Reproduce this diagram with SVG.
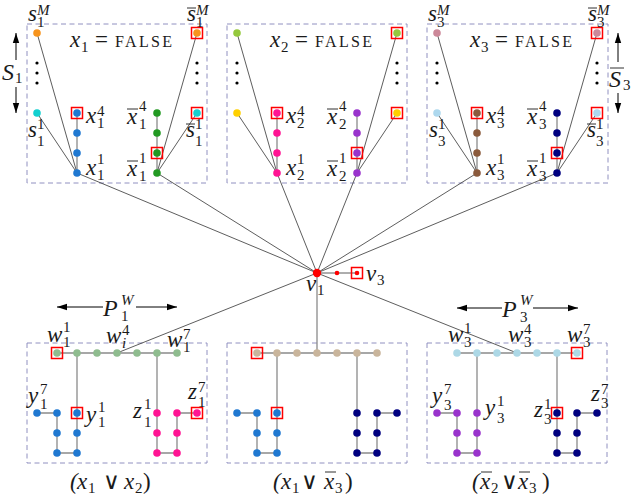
<svg xmlns="http://www.w3.org/2000/svg" width="635" height="496" viewBox="0 0 635 496">
<style>
.box{fill:none;stroke:#9090c0;stroke-width:1;stroke-dasharray:5 3.5}
.e{stroke:#8a8a8a;stroke-width:1.3;fill:none}
.c{stroke:#333;stroke-width:0.8;fill:none}
.rs{fill:none;stroke:#ff0000;stroke-width:1.5}
.ol{stroke:#1a1a1a;stroke-width:0.9}
.m{font-family:'Liberation Serif','DejaVu Serif','Times New Roman',serif;font-style:italic;font-size:23px;fill:#1a1a1a}
.d{font-style:normal;font-size:15px}
.i{font-style:italic;font-size:15px}
.n{font-style:normal}
.big{font-size:24px}
.fs{font-family:'Liberation Serif','DejaVu Serif','Times New Roman',serif;font-size:16px;fill:#1a1a1a}
.dot{fill:#000}
.ar{stroke:#000;stroke-width:1}
</style>
<defs>
<marker id="ah" markerWidth="12" markerHeight="8" refX="10" refY="4" orient="auto" markerUnits="userSpaceOnUse"><path d="M0,0.8 L10,4 L0,7.2 z" fill="#000"/></marker>
</defs>

<g id="boxes">
<rect class="box" x="27" y="24" width="180" height="159"/>
<rect class="box" x="227" y="24" width="180" height="159"/>
<rect class="box" x="427" y="24" width="181" height="159"/>
<rect class="box" x="27" y="343" width="180" height="120"/>
<rect class="box" x="227" y="343" width="180" height="120"/>
<rect class="box" x="427" y="343" width="180" height="120"/>
</g>

<g id="connectors">
<line class="e" x1="77" y1="113" x2="77" y2="173"/>
<line class="e" x1="157" y1="113" x2="157" y2="173"/>
<line class="c" x1="37" y1="33" x2="77" y2="173"/>
<line class="c" x1="37" y1="113" x2="77" y2="173"/>
<line class="c" x1="197" y1="33" x2="157" y2="173"/>
<line class="c" x1="197" y1="113" x2="157" y2="173"/>
<line class="e" x1="277" y1="113" x2="277" y2="173"/>
<line class="e" x1="357" y1="113" x2="357" y2="173"/>
<line class="c" x1="237" y1="33" x2="277" y2="173"/>
<line class="c" x1="237" y1="113" x2="277" y2="173"/>
<line class="c" x1="397" y1="33" x2="357" y2="173"/>
<line class="c" x1="397" y1="113" x2="357" y2="173"/>
<line class="e" x1="477" y1="113" x2="477" y2="173"/>
<line class="e" x1="557" y1="113" x2="557" y2="173"/>
<line class="c" x1="437" y1="33" x2="477" y2="173"/>
<line class="c" x1="437" y1="113" x2="477" y2="173"/>
<line class="c" x1="597" y1="33" x2="557" y2="173"/>
<line class="c" x1="597" y1="113" x2="557" y2="173"/>
<line class="c" x1="77" y1="173" x2="317" y2="273"/>
<line class="c" x1="157" y1="173" x2="317" y2="273"/>
<line class="c" x1="277" y1="173" x2="317" y2="273"/>
<line class="c" x1="357" y1="173" x2="317" y2="273"/>
<line class="c" x1="477" y1="173" x2="317" y2="273"/>
<line class="c" x1="557" y1="173" x2="317" y2="273"/>
<line class="c" x1="317" y1="273" x2="117" y2="353"/>
<line class="c" x1="317" y1="273" x2="517" y2="353"/>
<line class="e" x1="317" y1="273" x2="317" y2="353"/>
<line class="c" x1="317" y1="273" x2="357" y2="273"/>
<line class="e" x1="57" y1="353" x2="177" y2="353"/>
<line class="e" x1="77" y1="353" x2="77" y2="413"/>
<line class="e" x1="157" y1="353" x2="157" y2="413"/>
<polyline class="e" points="37,413 57,413 57,453 77,453 77,413"/>
<polyline class="e" points="157,413 157,453 177,453 177,413 197,413"/>
<line class="e" x1="257" y1="353" x2="377" y2="353"/>
<line class="e" x1="277" y1="353" x2="277" y2="413"/>
<line class="e" x1="357" y1="353" x2="357" y2="413"/>
<polyline class="e" points="237,413 257,413 257,453 277,453 277,413"/>
<polyline class="e" points="357,413 357,453 377,453 377,413 397,413"/>
<line class="e" x1="457" y1="353" x2="577" y2="353"/>
<line class="e" x1="477" y1="353" x2="477" y2="413"/>
<line class="e" x1="557" y1="353" x2="557" y2="413"/>
<polyline class="e" points="437,413 457,413 457,453 477,453 477,413"/>
<polyline class="e" points="557,413 557,453 577,453 577,413 597,413"/>
</g>

<g id="s1M"><circle cx="37" cy="33" r="3.8" fill="#f7941d"/></g>
<g id="s1_1"><circle cx="37" cy="113" r="3.8" fill="#12d0d0"/></g>
<g id="x1_4"><circle cx="77" cy="113" r="3.8" fill="#1f78d1"/><rect class="rs" x="71.5" y="107.5" width="11" height="11"/></g>
<g id="x1_3"><circle cx="77" cy="133" r="3.8" fill="#1f78d1"/></g>
<g id="x1_2"><circle cx="77" cy="153" r="3.8" fill="#1f78d1"/></g>
<g id="x1_1"><circle cx="77" cy="173" r="3.8" fill="#1f78d1"/></g>
<g id="xb1_4"><circle cx="157" cy="113" r="3.8" fill="#229922"/></g>
<g id="xb1_3"><circle cx="157" cy="133" r="3.8" fill="#229922"/></g>
<g id="xb1_2"><circle cx="157" cy="153" r="3.8" fill="#229922"/><rect class="rs" x="151.5" y="147.5" width="11" height="11"/></g>
<g id="xb1_1"><circle cx="157" cy="173" r="3.8" fill="#229922"/></g>
<g id="sb1M"><circle cx="197" cy="33" r="3.8" fill="#f7941d"/><rect class="rs" x="191.5" y="27.5" width="11" height="11"/></g>
<g id="sb1_1"><circle cx="197" cy="113" r="3.8" fill="#12d0d0"/><rect class="rs" x="191.5" y="107.5" width="11" height="11"/></g>
<g id="s2M"><circle cx="237" cy="33" r="3.8" fill="#95c93d"/></g>
<g id="s2_1"><circle cx="237" cy="113" r="3.8" fill="#ffd000"/></g>
<g id="x2_4"><circle cx="277" cy="113" r="3.8" fill="#ff1493"/><rect class="rs" x="271.5" y="107.5" width="11" height="11"/></g>
<g id="x2_3"><circle cx="277" cy="133" r="3.8" fill="#ff1493"/></g>
<g id="x2_2"><circle cx="277" cy="153" r="3.8" fill="#ff1493"/></g>
<g id="x2_1"><circle cx="277" cy="173" r="3.8" fill="#ff1493"/></g>
<g id="xb2_4"><circle cx="357" cy="113" r="3.8" fill="#9933cc"/></g>
<g id="xb2_3"><circle cx="357" cy="133" r="3.8" fill="#9933cc"/></g>
<g id="xb2_2"><circle cx="357" cy="153" r="3.8" fill="#9933cc"/><rect class="rs" x="351.5" y="147.5" width="11" height="11"/></g>
<g id="xb2_1"><circle cx="357" cy="173" r="3.8" fill="#9933cc"/></g>
<g id="sb2M"><circle cx="397" cy="33" r="3.8" fill="#95c93d"/><rect class="rs" x="391.5" y="27.5" width="11" height="11"/></g>
<g id="sb2_1"><circle cx="397" cy="113" r="3.8" fill="#ffd000"/><rect class="rs" x="391.5" y="107.5" width="11" height="11"/></g>
<g id="s3M"><circle cx="437" cy="33" r="3.8" fill="#cc8899"/></g>
<g id="s3_1"><circle cx="437" cy="113" r="3.8" fill="#add8ee"/></g>
<g id="x3_4"><circle cx="477" cy="113" r="3.8" fill="#8b5a3c"/><rect class="rs" x="471.5" y="107.5" width="11" height="11"/></g>
<g id="x3_3"><circle cx="477" cy="133" r="3.8" fill="#8b5a3c"/></g>
<g id="x3_2"><circle cx="477" cy="153" r="3.8" fill="#8b5a3c"/></g>
<g id="x3_1"><circle cx="477" cy="173" r="3.8" fill="#8b5a3c"/></g>
<g id="xb3_4"><circle cx="557" cy="113" r="3.8" fill="#000080"/></g>
<g id="xb3_3"><circle cx="557" cy="133" r="3.8" fill="#000080"/></g>
<g id="xb3_2"><circle cx="557" cy="153" r="3.8" fill="#000080"/><rect class="rs" x="551.5" y="147.5" width="11" height="11"/></g>
<g id="xb3_1"><circle cx="557" cy="173" r="3.8" fill="#000080"/></g>
<g id="sb3M"><circle cx="597" cy="33" r="3.8" fill="#cc8899"/><rect class="rs" x="591.5" y="27.5" width="11" height="11"/></g>
<g id="sb3_1"><circle cx="597" cy="113" r="3.8" fill="#add8ee"/><rect class="rs" x="591.5" y="107.5" width="11" height="11"/></g>

<g id="vdots">
<circle class="dot" cx="37" cy="63" r="1.6"/><circle class="dot" cx="37" cy="73" r="1.6"/><circle class="dot" cx="37" cy="83" r="1.6"/>
<circle class="dot" cx="197" cy="63" r="1.6"/><circle class="dot" cx="197" cy="73" r="1.6"/><circle class="dot" cx="197" cy="83" r="1.6"/>
<circle class="dot" cx="237" cy="63" r="1.6"/><circle class="dot" cx="237" cy="73" r="1.6"/><circle class="dot" cx="237" cy="83" r="1.6"/>
<circle class="dot" cx="397" cy="63" r="1.6"/><circle class="dot" cx="397" cy="73" r="1.6"/><circle class="dot" cx="397" cy="83" r="1.6"/>
<circle class="dot" cx="437" cy="63" r="1.6"/><circle class="dot" cx="437" cy="73" r="1.6"/><circle class="dot" cx="437" cy="83" r="1.6"/>
<circle class="dot" cx="597" cy="63" r="1.6"/><circle class="dot" cx="597" cy="73" r="1.6"/><circle class="dot" cx="597" cy="83" r="1.6"/>
</g>

<g id="v1"><circle cx="317" cy="273" r="4.2" fill="#ff0000"/></g>
<g id="v2"><circle cx="337" cy="273" r="2.3" fill="#ff0000"/></g>
<g id="v3"><circle cx="357" cy="273" r="2.3" fill="#ff0000"/><rect class="rs" x="351.5" y="267.5" width="11" height="11"/></g>

<g id="w1_1"><circle cx="57" cy="353" r="3.8" fill="#8fbc8f"/><rect class="rs" x="51.5" y="347.5" width="11" height="11"/></g>
<g id="w1_2"><circle cx="77" cy="353" r="3.8" fill="#8fbc8f"/></g>
<g id="w1_3"><circle cx="97" cy="353" r="3.8" fill="#8fbc8f"/></g>
<g id="w1_4"><circle cx="117" cy="353" r="3.8" fill="#8fbc8f"/></g>
<g id="w1_5"><circle cx="137" cy="353" r="3.8" fill="#8fbc8f"/></g>
<g id="w1_6"><circle cx="157" cy="353" r="3.8" fill="#8fbc8f"/></g>
<g id="w1_7"><circle cx="177" cy="353" r="3.8" fill="#8fbc8f"/></g>
<g id="y1_1"><circle cx="77" cy="413" r="3.8" fill="#1f78d1"/><rect class="rs" x="71.5" y="407.5" width="11" height="11"/></g>
<g id="y1_2"><circle cx="77" cy="433" r="3.8" fill="#1f78d1"/></g>
<g id="y1_3"><circle cx="77" cy="453" r="3.8" fill="#1f78d1"/></g>
<g id="y1_4"><circle cx="57" cy="453" r="3.8" fill="#1f78d1"/></g>
<g id="y1_5"><circle cx="57" cy="433" r="3.8" fill="#1f78d1"/></g>
<g id="y1_6"><circle cx="57" cy="413" r="3.8" fill="#1f78d1"/></g>
<g id="y1_7"><circle cx="37" cy="413" r="3.8" fill="#1f78d1"/></g>
<g id="z1_1"><circle cx="157" cy="413" r="3.8" fill="#ff1493"/></g>
<g id="z1_2"><circle cx="157" cy="433" r="3.8" fill="#ff1493"/></g>
<g id="z1_3"><circle cx="157" cy="453" r="3.8" fill="#ff1493"/></g>
<g id="z1_4"><circle cx="177" cy="453" r="3.8" fill="#ff1493"/></g>
<g id="z1_5"><circle cx="177" cy="433" r="3.8" fill="#ff1493"/></g>
<g id="z1_6"><circle cx="177" cy="413" r="3.8" fill="#ff1493"/></g>
<g id="z1_7"><circle cx="197" cy="413" r="3.8" fill="#ff1493"/><rect class="rs" x="191.5" y="407.5" width="11" height="11"/></g>
<g id="w2_1"><circle cx="257" cy="353" r="3.8" fill="#c9b59c"/><rect class="rs" x="251.5" y="347.5" width="11" height="11"/></g>
<g id="w2_2"><circle cx="277" cy="353" r="3.8" fill="#c9b59c"/></g>
<g id="w2_3"><circle cx="297" cy="353" r="3.8" fill="#c9b59c"/></g>
<g id="w2_4"><circle cx="317" cy="353" r="3.8" fill="#c9b59c"/></g>
<g id="w2_5"><circle cx="337" cy="353" r="3.8" fill="#c9b59c"/></g>
<g id="w2_6"><circle cx="357" cy="353" r="3.8" fill="#c9b59c"/></g>
<g id="w2_7"><circle cx="377" cy="353" r="3.8" fill="#c9b59c"/></g>
<g id="y2_1"><circle cx="277" cy="413" r="3.8" fill="#1f78d1"/><rect class="rs" x="271.5" y="407.5" width="11" height="11"/></g>
<g id="y2_2"><circle cx="277" cy="433" r="3.8" fill="#1f78d1"/></g>
<g id="y2_3"><circle cx="277" cy="453" r="3.8" fill="#1f78d1"/></g>
<g id="y2_4"><circle cx="257" cy="453" r="3.8" fill="#1f78d1"/></g>
<g id="y2_5"><circle cx="257" cy="433" r="3.8" fill="#1f78d1"/></g>
<g id="y2_6"><circle cx="257" cy="413" r="3.8" fill="#1f78d1"/></g>
<g id="y2_7"><circle cx="237" cy="413" r="3.8" fill="#1f78d1"/></g>
<g id="z2_1"><circle cx="357" cy="413" r="3.8" fill="#000080"/></g>
<g id="z2_2"><circle cx="357" cy="433" r="3.8" fill="#000080"/></g>
<g id="z2_3"><circle cx="357" cy="453" r="3.8" fill="#000080"/></g>
<g id="z2_4"><circle cx="377" cy="453" r="3.8" fill="#000080"/></g>
<g id="z2_5"><circle cx="377" cy="433" r="3.8" fill="#000080"/></g>
<g id="z2_6"><circle cx="377" cy="413" r="3.8" fill="#000080"/></g>
<g id="z2_7"><circle cx="397" cy="413" r="3.8" fill="#000080"/></g>
<g id="w3_1"><circle cx="457" cy="353" r="3.8" fill="#add8e6"/></g>
<g id="w3_2"><circle cx="477" cy="353" r="3.8" fill="#add8e6"/></g>
<g id="w3_3"><circle cx="497" cy="353" r="3.8" fill="#add8e6"/></g>
<g id="w3_4"><circle cx="517" cy="353" r="3.8" fill="#add8e6"/></g>
<g id="w3_5"><circle cx="537" cy="353" r="3.8" fill="#add8e6"/></g>
<g id="w3_6"><circle cx="557" cy="353" r="3.8" fill="#add8e6"/></g>
<g id="w3_7"><circle cx="577" cy="353" r="3.8" fill="#add8e6"/><rect class="rs" x="571.5" y="347.5" width="11" height="11"/></g>
<g id="y3_1"><circle cx="477" cy="413" r="3.8" fill="#9933cc"/></g>
<g id="y3_2"><circle cx="477" cy="433" r="3.8" fill="#9933cc"/></g>
<g id="y3_3"><circle cx="477" cy="453" r="3.8" fill="#9933cc"/></g>
<g id="y3_4"><circle cx="457" cy="453" r="3.8" fill="#9933cc"/></g>
<g id="y3_5"><circle cx="457" cy="433" r="3.8" fill="#9933cc"/></g>
<g id="y3_6"><circle cx="457" cy="413" r="3.8" fill="#9933cc"/></g>
<g id="y3_7"><circle cx="437" cy="413" r="3.8" fill="#9933cc"/></g>
<g id="z3_1"><circle cx="557" cy="413" r="3.8" fill="#000080"/><rect class="rs" x="551.5" y="407.5" width="11" height="11"/></g>
<g id="z3_2"><circle cx="557" cy="433" r="3.8" fill="#000080"/></g>
<g id="z3_3"><circle cx="557" cy="453" r="3.8" fill="#000080"/></g>
<g id="z3_4"><circle cx="577" cy="453" r="3.8" fill="#000080"/></g>
<g id="z3_5"><circle cx="577" cy="433" r="3.8" fill="#000080"/></g>
<g id="z3_6"><circle cx="577" cy="413" r="3.8" fill="#000080"/></g>
<g id="z3_7"><circle cx="597" cy="413" r="3.8" fill="#000080"/></g>

<g id="arrows">
<line class="ar" x1="16" y1="60" x2="16" y2="33" marker-end="url(#ah)"/>
<line class="ar" x1="16" y1="87" x2="16" y2="113" marker-end="url(#ah)"/>
<line class="ar" x1="618" y1="62" x2="618" y2="33" marker-end="url(#ah)"/>
<line class="ar" x1="618" y1="93" x2="618" y2="113" marker-end="url(#ah)"/>
<line class="ar" x1="103" y1="307" x2="57" y2="307" marker-end="url(#ah)"/>
<line class="ar" x1="136" y1="307" x2="177" y2="307" marker-end="url(#ah)"/>
<line class="ar" x1="502" y1="308" x2="457" y2="308" marker-end="url(#ah)"/>
<line class="ar" x1="533" y1="308" x2="578" y2="308" marker-end="url(#ah)"/>
</g>

<g id="labels" font-family="Liberation Serif, DejaVu Serif, serif">
<text class="m" x="70" y="47">x<tspan class="d" x="81" y="52">1</tspan><tspan class="n" x="95" y="47">=</tspan></text>
<text class="fs" x="115" y="47" textLength="57" lengthAdjust="spacing">FALSE</text>
<text class="m" x="270" y="47">x<tspan class="d" x="281" y="52">2</tspan><tspan class="n" x="295" y="47">=</tspan></text>
<text class="fs" x="315" y="47" textLength="57" lengthAdjust="spacing">FALSE</text>
<text class="m" x="470" y="47">x<tspan class="d" x="481" y="52">3</tspan><tspan class="n" x="495" y="47">=</tspan></text>
<text class="fs" x="515" y="47" textLength="57" lengthAdjust="spacing">FALSE</text>

<text class="m" x="28" y="21">s<tspan class="i" x="37" y="15">M</tspan><tspan class="d" x="37" y="27">1</tspan></text>
<text class="m" x="187" y="21">s<tspan class="i" x="196" y="15">M</tspan><tspan class="d" x="196" y="27">1</tspan></text>
<line class="ol" x1="187" y1="8" x2="196" y2="8"/>
<text class="m" x="28" y="137">s<tspan class="d" x="37" y="129">1</tspan><tspan class="d" x="37" y="146">1</tspan></text>
<text class="m" x="186" y="137">s<tspan class="d" x="195" y="129">1</tspan><tspan class="d" x="195" y="146">1</tspan></text>
<line class="ol" x1="186" y1="124" x2="195" y2="124"/>
<text class="m" x="86" y="123">x<tspan class="d" x="97" y="116">4</tspan><tspan class="d" x="97" y="128">1</tspan></text>
<text class="m" x="86" y="175">x<tspan class="d" x="97" y="164">1</tspan><tspan class="d" x="97" y="180">1</tspan></text>
<text class="m" x="127" y="124">x<tspan class="d" x="139" y="111">4</tspan><tspan class="d" x="139" y="129">1</tspan></text>
<line class="ol" x1="127" y1="109" x2="138" y2="109"/>
<text class="m" x="127" y="176">x<tspan class="d" x="139" y="163">1</tspan><tspan class="d" x="139" y="181">1</tspan></text>
<line class="ol" x1="127" y1="161" x2="138" y2="161"/>
<text class="m big" x="2" y="80">S<tspan class="d" x="15" y="83">1</tspan></text>

<text class="m" x="286" y="123">x<tspan class="d" x="297" y="116">4</tspan><tspan class="d" x="297" y="128">2</tspan></text>
<text class="m" x="286" y="175">x<tspan class="d" x="297" y="164">1</tspan><tspan class="d" x="297" y="180">2</tspan></text>
<text class="m" x="327" y="124">x<tspan class="d" x="339" y="111">4</tspan><tspan class="d" x="339" y="129">2</tspan></text>
<line class="ol" x1="327" y1="109" x2="338" y2="109"/>
<text class="m" x="327" y="176">x<tspan class="d" x="339" y="163">1</tspan><tspan class="d" x="339" y="181">2</tspan></text>
<line class="ol" x1="327" y1="161" x2="338" y2="161"/>

<text class="m" x="428" y="21">s<tspan class="i" x="437" y="15">M</tspan><tspan class="d" x="437" y="27">3</tspan></text>
<text class="m" x="588" y="21">s<tspan class="i" x="597" y="15">M</tspan><tspan class="d" x="597" y="27">3</tspan></text>
<line class="ol" x1="588" y1="8" x2="597" y2="8"/>
<text class="m" x="429" y="137">s<tspan class="d" x="438" y="129">1</tspan><tspan class="d" x="438" y="146">3</tspan></text>
<text class="m" x="587" y="137">s<tspan class="d" x="596" y="129">1</tspan><tspan class="d" x="596" y="146">3</tspan></text>
<line class="ol" x1="587" y1="124" x2="596" y2="124"/>
<text class="m" x="486" y="123">x<tspan class="d" x="497" y="116">4</tspan><tspan class="d" x="497" y="128">3</tspan></text>
<text class="m" x="486" y="175">x<tspan class="d" x="497" y="164">1</tspan><tspan class="d" x="497" y="180">3</tspan></text>
<text class="m" x="527" y="124">x<tspan class="d" x="539" y="111">4</tspan><tspan class="d" x="539" y="129">3</tspan></text>
<line class="ol" x1="527" y1="109" x2="538" y2="109"/>
<text class="m" x="527" y="176">x<tspan class="d" x="539" y="163">1</tspan><tspan class="d" x="539" y="181">3</tspan></text>
<line class="ol" x1="527" y1="161" x2="538" y2="161"/>
<text class="m big" x="609" y="87">S<tspan class="d" x="623" y="90">3</tspan></text>
<line class="ol" x1="610" y1="68" x2="624" y2="68"/>

<text class="m" x="306" y="291">v<tspan class="d" x="317" y="295">1</tspan></text>
<text class="m" x="366" y="281">v<tspan class="d" x="377" y="285">3</tspan></text>

<text class="m big" x="103" y="316">P<tspan class="i" x="121" y="305">W</tspan><tspan class="d" x="121" y="321">1</tspan></text>
<text class="m" x="47" y="342">w<tspan class="d" x="63" y="332">1</tspan><tspan class="d" x="63" y="347">1</tspan></text>
<text class="m" x="106" y="343">w<tspan class="d" x="122" y="335">4</tspan><tspan class="i" x="122" y="348">i</tspan></text>
<text class="m" x="167" y="347">w<tspan class="d" x="183" y="339">7</tspan><tspan class="d" x="183" y="352">1</tspan></text>
<text class="m" x="28" y="403">y<tspan class="d" x="40" y="394">7</tspan><tspan class="d" x="40" y="409">1</tspan></text>
<text class="m" x="86" y="422">y<tspan class="d" x="98" y="412">1</tspan><tspan class="d" x="98" y="427">1</tspan></text>
<text class="m" x="133" y="418">z<tspan class="d" x="144" y="409">1</tspan><tspan class="d" x="144" y="427">1</tspan></text>
<text class="m" x="188" y="399">z<tspan class="d" x="198" y="392">7</tspan><tspan class="d" x="198" y="407">1</tspan></text>
<text class="m" x="70" y="489">(<tspan x="77" y="489">x</tspan><tspan class="d" x="88" y="493">1</tspan><tspan class="n" x="103" y="489">∨</tspan><tspan x="124" y="489">x</tspan><tspan class="d" x="135" y="493">2</tspan><tspan class="n" x="143" y="489">)</tspan></text>

<text class="m" x="273" y="489">(<tspan x="281" y="489">x</tspan><tspan class="d" x="292" y="493">1</tspan><tspan class="n" x="301" y="489">∨</tspan><tspan x="324" y="489">x</tspan><tspan class="d" x="335" y="493">3</tspan><tspan class="n" x="345" y="489">)</tspan></text>
<line class="ol" x1="325" y1="472" x2="336" y2="472"/>

<text class="m big" x="502" y="317">P<tspan class="i" x="520" y="305">W</tspan><tspan class="d" x="520" y="322">3</tspan></text>
<text class="m" x="448" y="342">w<tspan class="d" x="464" y="333">1</tspan><tspan class="d" x="464" y="347">3</tspan></text>
<text class="m" x="508" y="342">w<tspan class="d" x="524" y="334">4</tspan><tspan class="d" x="524" y="347">3</tspan></text>
<text class="m" x="567" y="342">w<tspan class="d" x="583" y="334">7</tspan><tspan class="d" x="583" y="347">3</tspan></text>
<text class="m" x="432" y="403">y<tspan class="d" x="444" y="394">7</tspan><tspan class="d" x="444" y="410">3</tspan></text>
<text class="m" x="485" y="415">y<tspan class="d" x="497" y="406">1</tspan><tspan class="d" x="497" y="423">3</tspan></text>
<text class="m" x="534" y="417">z<tspan class="d" x="544" y="409">1</tspan><tspan class="d" x="544" y="424">3</tspan></text>
<text class="m" x="591" y="401">z<tspan class="d" x="601" y="394">7</tspan><tspan class="d" x="601" y="408">3</tspan></text>
<text class="m" x="472" y="489">(<tspan x="480" y="489">x</tspan><tspan class="d" x="491" y="493">2</tspan><tspan class="n" x="501" y="489">∨</tspan><tspan x="518" y="489">x</tspan><tspan class="d" x="529" y="493">3</tspan><tspan class="n" x="542" y="489">)</tspan></text>
<line class="ol" x1="481" y1="472" x2="492" y2="472"/>
<line class="ol" x1="519" y1="472" x2="530" y2="472"/>
</g>
</svg>
